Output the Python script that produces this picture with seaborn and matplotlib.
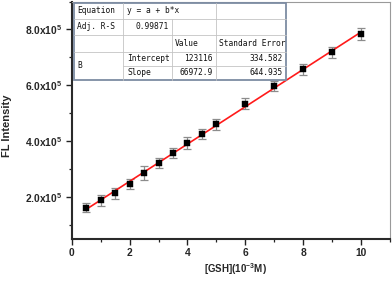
import numpy as np
import pandas as pd
import matplotlib
matplotlib.use("Agg")
import matplotlib.pyplot as plt
import seaborn as sns
from matplotlib.lines import Line2D
from matplotlib.patches import Rectangle
from matplotlib.ticker import MultipleLocator, FixedLocator, FixedFormatter

# ---------------- data ----------------
conc = [0.5, 1, 1.5, 2, 2.5, 3, 3.5, 4, 4.5, 5, 6, 7, 8, 9, 10]
intensity = [163e3, 189e3, 214e3, 248e3, 287e3, 322e3, 360e3, 395e3,
             428e3, 461e3, 535e3, 598e3, 657e3, 718e3, 783e3]
err = [17e3, 21e3, 21e3, 17e3, 24e3, 18e3, 18e3, 22e3,
       18e3, 19e3, 20e3, 17e3, 20e3, 21e3, 21e3]

x_ticks = [0, 2, 4, 6, 8, 10]
y_ticks = [2e5, 4e5, 6e5, 8e5]
y_tick_labels = ["2.0x10$^{\\mathbf{5}}$", "4.0x10$^{\\mathbf{5}}$",
                 "6.0x10$^{\\mathbf{5}}$", "8.0x10$^{\\mathbf{5}}$"]

equation_text = "y = a + b*x"
adj_r2_text = "0.99871"
param_group = "B"
param_names = ["Intercept", "Slope"]
param_values = ["123116", "66972.9"]
param_errors = ["334.582", "644.935"]

df = pd.DataFrame({"x": conc, "y": intensity, "err": err})

# ---------------- style ----------------
sns.set_theme(style="ticks")
plt.rcParams["font.family"] = ["Liberation Sans", "DejaVu Sans"]
plt.rcParams["mathtext.fontset"] = "custom"
plt.rcParams["mathtext.bf"] = "Liberation Sans:bold"
plt.rcParams["mathtext.rm"] = "Liberation Sans:bold"

W, H = 392, 281
fig = plt.figure(figsize=(W / 100, H / 100), dpi=100)
ax = fig.add_axes([71.7 / W, 1 - 239.3 / H, (390 - 71.7) / W, (239.3 - 1.5) / H])

# error bars
ax.errorbar(df["x"], df["y"], yerr=df["err"], fmt="none", ecolor="#8c8c8c",
            elinewidth=0.9, capsize=2.6, capthick=0.9, zorder=2)
# fit line
sns.regplot(data=df, x="x", y="y", scatter=False, ci=None, ax=ax,
            line_kws=dict(color="#ff1a1a", lw=1.2, zorder=3))
# markers
sns.scatterplot(data=df, x="x", y="y", marker="s", s=24, color="black",
                edgecolor="black", linewidth=0.3, ax=ax, zorder=4)

ax.set_xlim(0, 11)
ax.set_ylim(0.5e5, 9e5)
ax.xaxis.set_major_locator(FixedLocator(x_ticks))
ax.xaxis.set_minor_locator(MultipleLocator(1))
ax.yaxis.set_major_locator(FixedLocator(y_ticks))
ax.yaxis.set_major_formatter(FixedFormatter(y_tick_labels))
ax.yaxis.set_minor_locator(MultipleLocator(1e5))

ax.tick_params(which="major", direction="out", length=4, width=1.0,
               labelsize=7.4, pad=2.5, color="#222222")
ax.tick_params(which="minor", direction="out", length=2.5, width=0.9,
               color="#222222")
for lab in ax.get_xticklabels() + ax.get_yticklabels():
    lab.set_fontweight("bold")

for s in ["left", "bottom"]:
    ax.spines[s].set_linewidth(1.5)
    ax.spines[s].set_color("#2a2a2a")
for s in ["top", "right"]:
    ax.spines[s].set_visible(True)
    ax.spines[s].set_linewidth(0.8)
    ax.spines[s].set_color("#9a9a9a")

ax.set_xlabel("[GSH](10$^{\\mathbf{-3}}$M)", fontsize=7.0, fontweight="bold")
ax.set_ylabel("FL Intensity", fontsize=8.0, fontweight="bold")
ax.xaxis.set_label_coords((235 - 71.7) / 318.3, (239.3 - 269) / 237.8)
ax.yaxis.set_label_coords((7.5 - 71.7) / 318.3, (239.3 - 126) / 237.8)
ax.xaxis.label.set_va("center")
ax.yaxis.label.set_va("center")

# ---------------- inset table ----------------
def fx(px):
    return px / W

def fy(py):
    return 1 - py / H

x0, x1, x2, x3, x4 = 74, 123, 172, 216, 286
y0, y1, y2, y3, y4, y5 = 3, 18.5, 35, 51.7, 65.5, 80

fig.patches.append(Rectangle((fx(x0), fy(y5)), fx(x4) - fx(x0), fy(y0) - fy(y5),
                             transform=fig.transFigure, facecolor="white",
                             edgecolor="#7d8ca3", lw=1.3, zorder=10))
grid = "#c4c4c4"
inner = [((x0, x4), (y1, y1)), ((x0, x4), (y2, y2)), ((x0, x4), (y3, y3)),
         ((x1, x4), (y4, y4)), ((x1, x1), (y0, y5)), ((x2, x2), (y1, y5)),
         ((x3, x3), (y0, y5))]
for (xa, xb), (ya, yb) in inner:
    fig.add_artist(Line2D([fx(xa), fx(xb)], [fy(ya), fy(yb)], color=grid, lw=0.6,
                          transform=fig.transFigure, zorder=11))

tfont = dict(family=["DejaVu Sans Mono"], fontsize=5.7,
             color="#111111", zorder=12, transform=fig.transFigure, va="center")
rc = [(y0 + y1) / 2, (y1 + y2) / 2, (y2 + y3) / 2, (y3 + y4) / 2, (y4 + y5) / 2]
fig.text(fx(x0 + 3), fy(rc[0]), "Equation", ha="left", **tfont)
fig.text(fx(x1 + 4), fy(rc[0]), equation_text, ha="left", **tfont)
fig.text(fx(x0 + 3), fy(rc[1]), "Adj. R-S", ha="left", **tfont)
fig.text(fx(x2 - 3), fy(rc[1]), adj_r2_text, ha="right", **tfont)
fig.text(fx(x2 + 3), fy(rc[2]), "Value", ha="left", **tfont)
fig.text(fx(x3 + 3), fy(rc[2]), "Standard Error", ha="left", **tfont)
fig.text(fx(x0 + 3), fy((y3 + y5) / 2), param_group, ha="left", **tfont)
for i in range(2):
    fig.text(fx(x1 + 4), fy(rc[3 + i]), param_names[i], ha="left", **tfont)
    fig.text(fx(x3 - 3), fy(rc[3 + i]), param_values[i], ha="right", **tfont)
    fig.text(fx(x4 - 3), fy(rc[3 + i]), param_errors[i], ha="right", **tfont)

fig.savefig("out.png", dpi=100)
